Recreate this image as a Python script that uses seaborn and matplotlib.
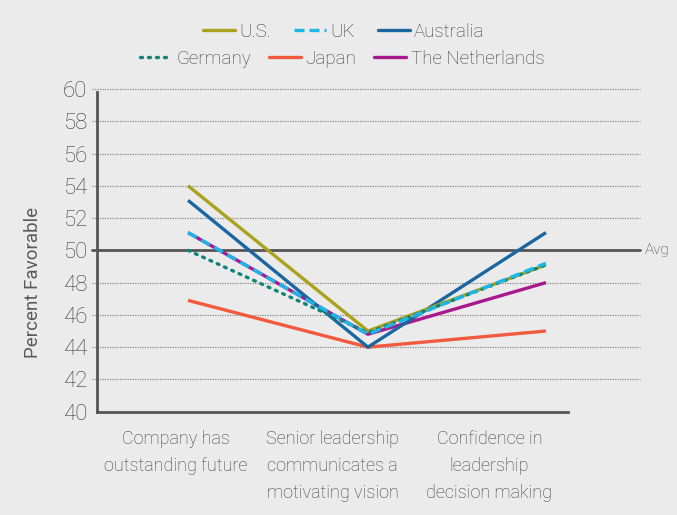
import seaborn as sns
import matplotlib.pyplot as plt
from matplotlib.lines import Line2D

categories = ["Company has\noutstanding future",
              "Senior leadership\ncommunicates a\nmotivating vision",
              "Confidence in\nleadership\ndecision making"]
countries = ["Japan", "The Netherlands", "Australia", "U.S.", "Germany", "UK"]
us = [54.0, 45.0, 49.1]
uk = [51.1, 44.8, 49.2]
australia = [53.1, 44.0, 51.1]
germany = [50.0, 44.9, 49.1]
japan = [46.9, 44.0, 45.0]
netherlands = [51.1, 44.8, 48.0]
avg = 50
yticks = list(range(40, 61, 2))

series = {"U.S.": us, "UK": uk, "Australia": australia,
          "Germany": germany, "Japan": japan, "The Netherlands": netherlands}
colors = {"U.S.": "#aaa21d", "UK": "#1cb6ea", "Australia": "#1a66a0",
          "Germany": "#11847a", "Japan": "#f25a3f", "The Netherlands": "#a8198e"}
styles = {"U.S.": "-", "UK": (0, (3, 1.5)), "Australia": "-",
          "Germany": (0, (0.6, 1.8)), "Japan": "-", "The Netherlands": "-"}

bg = "#ebebeb"
txt = "#3c3c3c"
fam = ["Roboto", "DejaVu Sans"]
sns.set_style("white")
plt.rcParams['font.family'] = fam

fig = plt.figure(figsize=(6.77, 5.15), dpi=100, facecolor=bg)
ax = fig.add_axes([0.1433, 0.2006, 0.802, 0.6266], facecolor=bg)

xpos = [0.58, 1.726, 2.86]
x_right = 3.459

# dotted grid lines extending left of the spine
for y in yticks:
    if y in (40, avg):
        continue
    ax.plot([-0.035, x_right], [y, y], color="#888888", lw=0.9,
            ls=(0, (1, 1)), clip_on=False, zorder=1)
ax.plot([-0.035, x_right], [avg, avg], color="#555555", lw=2, clip_on=False, zorder=1)
ax.text(x_right + 0.03, avg, "Avg", va="center", ha="left", fontsize=11,
        color=txt, fontweight="light")

for name in countries:
    sns.lineplot(x=xpos, y=series[name], ax=ax, color=colors[name],
                 linestyle=styles[name], lw=2.4, zorder=3,
                 solid_capstyle="butt", dash_capstyle="round" if name == "Germany" else "butt")

ax.set_xlim(0, x_right)
ax.set_ylim(40, 60)
ax.set_yticks(yticks)
ax.set_yticklabels([str(v) for v in yticks], fontsize=16, color=txt, fontweight="light")
ax.tick_params(axis="y", length=5, width=1.5, color="#555555", pad=2)

ax.set_xticks([0, 1, 2, 3])
ax.set_xticklabels([])
ax.set_xticks([0.5, 1.5, 2.5], minor=True)
ax.set_xticklabels(categories, minor=True, fontsize=13, color=txt, linespacing=1.65,
                   fontweight="light")
ax.tick_params(axis="x", which="major", length=6, width=1.5, color="#555555", direction="out")
ax.tick_params(axis="x", which="minor", length=0, pad=13)

for s in ["top", "right"]:
    ax.spines[s].set_visible(False)
ax.spines["left"].set_color("#555555")
ax.spines["left"].set_linewidth(2)
ax.spines["left"].set_bounds(40, 59.8)
ax.spines["bottom"].set_color("#555555")
ax.spines["bottom"].set_linewidth(2)
ax.spines["bottom"].set_bounds(0, 3)

ax.set_ylabel("Percent Favorable", fontsize=13.5, color="#5a5a5a")
ax.yaxis.set_label_coords(-0.101, 0.40)
ax.set_xlabel("")

def handle(name):
    return Line2D([0], [0], color=colors[name], ls=styles[name], lw=2.4,
                  dash_capstyle="round" if name == "Germany" else "butt")

row1 = ["U.S.", "UK", "Australia"]
row2 = ["Germany", "Japan", "The Netherlands"]
for row, yy, cs, cx in ((row1, 0.938, 1.2, 0.508), (row2, 0.886, 0.95, 0.505)):
    fig.legend([handle(n) for n in row], row, loc="center", bbox_to_anchor=(cx, yy),
               ncol=3, frameon=False, handlelength=1.7, handletextpad=0.25,
               columnspacing=cs, labelcolor=txt,
               prop={"size": 13.5, "weight": "light", "family": fam})

fig.savefig("out.png", dpi=100, facecolor=bg)
